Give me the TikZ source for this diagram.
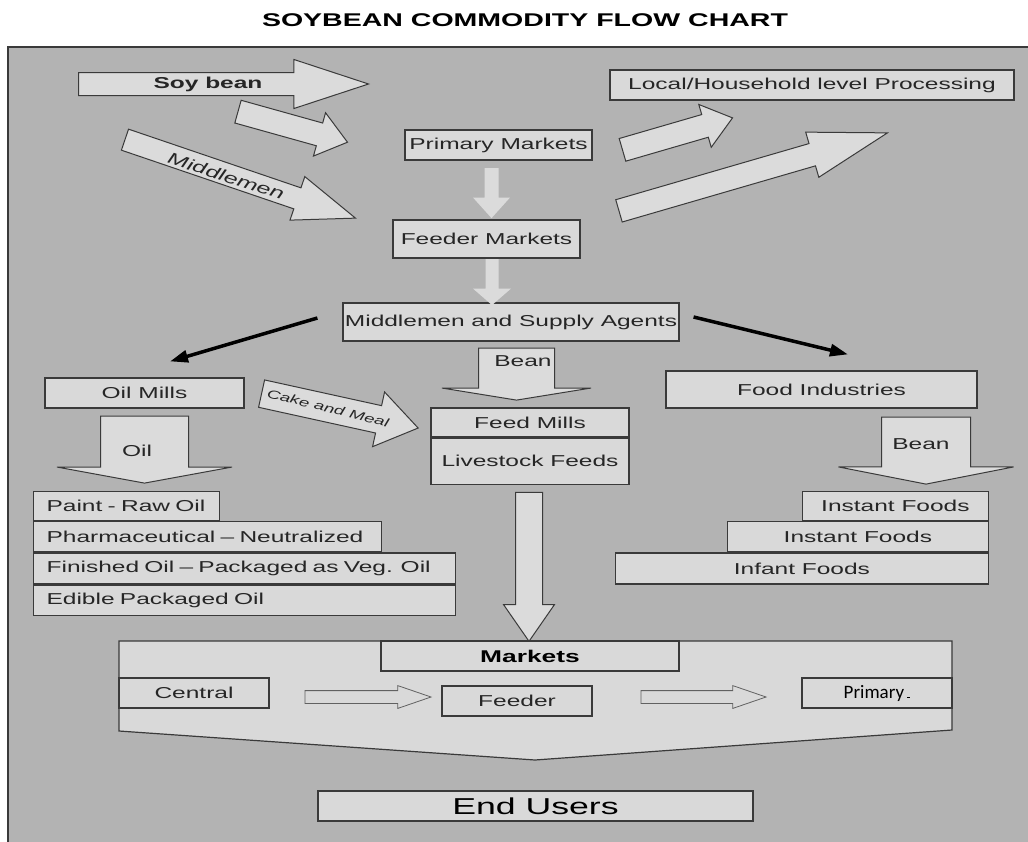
\documentclass[tikz,border=0pt]{standalone}
\usepackage{fontspec}
\setmainfont{Liberation Sans}[FakeStretch=1.55]
\newfontfamily\calib{Carlito}
\usetikzlibrary{arrows.meta,calc,positioning,shapes.arrows}
\definecolor{bgC}{HTML}{B3B3B3}
\definecolor{boxF}{HTML}{D9D9D9}
\definecolor{arrF}{HTML}{DBDBDB}
\definecolor{edgeC}{HTML}{3A3A3A}
\definecolor{txtC}{HTML}{262626}
\tikzset{
  box/.style={draw=edgeC, fill=boxF, line width=1.2pt, inner sep=0pt, text=txtC,
              font=\fontsize{15.8}{18}\selectfont},
  oilrow/.style={box, anchor=north west, align=left, inner xsep=13pt},
  foodrow/.style={box, anchor=north east},
  barrow/.style n args={4}{single arrow, draw=edgeC, fill=arrF, line width=1pt, anchor=tail,
              inner xsep=0pt, minimum width=0pt, inner ysep=#1, single arrow head extend=#2,
              single arrow tip angle=#3, minimum height=#4},
  flat/.style={draw=none},
  thin/.style={line width=0.8pt, draw=edgeC!80, fill=boxF},
  lab/.style={text=txtC, inner sep=0pt, font=\fontsize{15.8}{18}\selectfont},
  pointer/.style={-{Triangle[length=18pt,width=12pt]}, draw=black, line width=3.5pt},
  mkshape/.style={draw=edgeC, fill=boxF, line width=1.2pt},
}

\begin{document}
\begin{tikzpicture}[x=1pt,y=-1pt]
\clip (0,0) rectangle (1028,841);
\fill[white] (0,0) rectangle (1028,841);
\node[font=\bfseries\fontsize{18.4}{22}\selectfont] (title) at (525,20) {SOYBEAN COMMODITY FLOW CHART};
\draw[draw=edgeC, line width=1.5pt, fill=bgC] (8,47) rectangle (1040,850);
% top arrows
\node[barrow={11pt}{13pt}{36.4}{290pt}] (sb) at (78,84) {};
\node[lab, font=\bfseries\fontsize{15.8}{18}\selectfont] (sbl) at (208,84) {Soy bean};
\node[barrow={11.3pt}{10.7pt}{75.5}{113.7pt}, rotate=-15.6] (pa) at (237.5,111.5) {};
\node[barrow={10.6pt}{11.9pt}{41.1}{243.5pt}, rotate=-18.8] (mm) at (124.5,139.5) {};
\node[lab, font=\itshape\fontsize{16}{18}\selectfont, rotate=-18] (mml) at (226,176) {Middlemen};
\node[box, minimum width=187pt, minimum height=30pt] (pm) at (498.5,145) {Primary Markets};
\node[box, minimum width=187pt, minimum height=38pt] (fm) at (486.5,239) {Feeder Markets};
\node[box, minimum width=336pt, minimum height=38pt] (ms) at (511,322) {Middlemen and Supply Agents};
\node[box, minimum width=404pt, minimum height=30pt] (lh) at (812,85) {Local/Household level Processing};
\node[barrow={11.3pt}{10.5pt}{75.8}{114.6pt}, rotate=16.2] (lha) at (622,150) {};
\node[barrow={11.1pt}{11.9pt}{33.4}{279.6pt}, rotate=16.2] (bga) at (618.5,211) {};
\node[barrow={6.5pt}{11.5pt}{84}{50pt}, flat, rotate=-90] (d1) at ($(pm.south)+(-7,7)$) {};
\node[barrow={6pt}{12.5pt}{98}{46pt}, flat, rotate=-90] (d2) at ($(fm.south)+(5.5,0)$) {};
% oil mills side
\node[box, minimum width=199pt, minimum height=30pt] (om) at (144.5,393) {Oil Mills};
\node[barrow={43.5pt}{43.5pt}{159.2}{67pt}, rotate=-90] (oil) at ($(om.south)+(0,7)$) {};
\node[lab] (oill) at (137,451) {Oil};
\node[oilrow, text width=160pt, minimum height=29pt] (paint) at (33,491) {Paint - Raw Oil};
\node[oilrow, text width=322pt, minimum height=30pt] (pharma) at (paint.south west) {Pharmaceutical – Neutralized};
\node[oilrow, text width=396pt, minimum height=31pt] (finished) at (pharma.south west) {Finished Oil – Packaged as Veg. Oil};
\node[oilrow, text width=396pt, minimum height=30pt] (edible) at (finished.south west) {Edible Packaged Oil};
\node[barrow={13.5pt}{14pt}{69.3}{160.3pt}, rotate=-12.4] (cm) at ($(om.east)+(16.5,0.5)$) {};
\node[lab, font=\itshape\fontsize{12}{14}\selectfont, rotate=-14] (cml) at (328,408) {Cake and Meal};
% feed mills
\node[barrow={37.5pt}{36.5pt}{161.6}{52pt}, rotate=-90] (bn) at ($(ms.south)+(5.5,6)$) {};
\node[lab] (bnl) at (523,361) {Bean};
\node[box, minimum width=198pt, minimum height=29pt] (fdm) at (530,422.5) {Feed Mills};
\node[box, minimum width=198pt, minimum height=46pt, anchor=north] (lf) at (fdm.south) {Livestock Feeds};
\node[barrow={13pt}{12pt}{69.5}{149pt}, rotate=-90] (fd) at ($(lf.south)+(-1,7)$) {};
% food industries
\node[box, minimum width=311pt, minimum height=37pt] (fi) at (821.5,389.5) {Food Industries};
\node[barrow={44pt}{43pt}{157.8}{67pt}, rotate=-90] (bn2) at ($(fi.south)+(104.5,8)$) {};
\node[lab] (bn2l) at (921,444) {Bean};
\node[foodrow, minimum width=186pt, minimum height=29pt] (inst1) at (989,491) {Instant Foods};
\node[foodrow, minimum width=261pt, minimum height=30pt] (inst2) at (inst1.south east) {Instant Foods};
\node[foodrow, minimum width=373pt, minimum height=31pt] (infant) at (inst2.south east) {Infant Foods};
% black pointers
\draw[pointer] ($(ms.west)+(-25,-4)$) -- ($(om.north)+(25.5,-16)$);
\draw[pointer] ($(ms.east)+(14,-5)$) -- ($(fi.north)+(26.5,-16)$);
% markets
\draw[mkshape] (119,641) -- (952,641) -- (952,730) -- (535,760) -- (119,731) -- cycle;
\node[box, minimum width=298pt, minimum height=30pt, text=black,
      font=\bfseries\fontsize{17}{20}\selectfont] (mkt) at (530,656) {Markets};
\node[box, minimum width=150pt, minimum height=30pt] (cen) at (194,693) {Central};
\node[box, minimum width=150pt, minimum height=30pt] (fdr) at (517,701) {Feeder};
\node[box, minimum width=150pt, minimum height=30pt, text=black,
      font=\calib\fontsize{19}{22}\selectfont] (pri) at (877,693) {Primary\,\rule{3pt}{0.6pt}};
\node[barrow={6pt}{5pt}{37.9}{126pt}, thin] (ma1) at ($(cen.east)+(35,4)$) {};
\node[barrow={6pt}{5pt}{37.9}{125pt}, thin] (ma2) at ($(fdr.east)+(48,-4)$) {};
\node[box, minimum width=435pt, minimum height=30pt, text=black,
      font=\fontsize{23}{26}\selectfont] (eu) at (535.5,806) {End Users};
\end{tikzpicture}
\end{document}
